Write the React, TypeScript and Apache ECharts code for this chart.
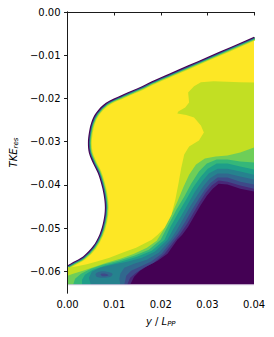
import React, { useEffect, useRef } from "react";
import * as echarts from "echarts";

// ---- axes ----
const X_TICKS = [0, 0.01, 0.02, 0.03, 0.04];
const Y_TICKS = [0, -0.01, -0.02, -0.03, -0.04, -0.05, -0.06];
const X_MIN = 0;
const X_MAX = 0.04;
const Y_MIN = -0.065;
const Y_MAX = 0;
const Y_BOTTOM = -0.0631; // lower edge of the data domain

// ---- hull outline (y/Lpp, z) from the top-right edge to the left edge ----
const HULL: number[][] = [
  [0.04, -0.00574], [0.03, -0.01043], [0.022, -0.01418], [0.01807, -0.01602],
  [0.01596, -0.01716], [0.01174, -0.01915],
  [0.00822, -0.02102], [0.00611, -0.02333], [0.00506, -0.02565], [0.00458, -0.02796],
  [0.00437, -0.03028], [0.00458, -0.03259], [0.00542, -0.03491], [0.00647, -0.03722],
  [0.00717, -0.03954], [0.00774, -0.04225], [0.00801, -0.04532], [0.00768, -0.04843],
  [0.00683, -0.0515], [0.00542, -0.05421], [0.00331, -0.05653], [0.0012, -0.05782],
  [0, -0.05856],
];

// ---- contour lines of TKE levels (level k: region above/left of line) ----
const C1: number[][] = [
  [0.04, -0.04155], [0.03705, -0.04086], [0.03431, -0.03993], [0.03241, -0.0397],
  [0.03114, -0.04086], [0.02988, -0.04248], [0.02861, -0.04456], [0.02735, -0.04688],
  [0.02587, -0.04965], [0.02461, -0.0515], [0.02355, -0.05266], [0.02144, -0.0559],
  [0.01934, -0.05752], [0.01723, -0.05868], [0.01554, -0.05984], [0.01428, -0.06123],
  [0.01343, -0.0631],
];
const C2: number[][] = [
  [0.04, -0.04086], [0.03705, -0.04016], [0.03431, -0.03924], [0.03241, -0.039],
  [0.03093, -0.04016], [0.02967, -0.04178], [0.0284, -0.04387], [0.02714, -0.04618],
  [0.02566, -0.04896], [0.02419, -0.05127], [0.02313, -0.05266], [0.02081, -0.0559],
  [0.01849, -0.05799], [0.01638, -0.05914], [0.0147, -0.0603], [0.01343, -0.06146],
  [0.0128, -0.0631],
];
const C3: number[][] = [
  [0.04, -0.03993], [0.03705, -0.03924], [0.03431, -0.03831], [0.0322, -0.03831],
  [0.03072, -0.03947], [0.02946, -0.04109], [0.02819, -0.04317], [0.02672, -0.04572],
  [0.02524, -0.0485], [0.02376, -0.05104], [0.0226, -0.05266], [0.02018, -0.0559],
  [0.01786, -0.05775], [0.01554, -0.05891], [0.01364, -0.05984], [0.01259, -0.061],
  [0.01217, -0.0631],
];
const C4: number[][] = [
  [0.04, -0.03877], [0.03705, -0.03808], [0.03431, -0.03738], [0.0322, -0.03738],
  [0.03051, -0.03854], [0.02925, -0.04016], [0.02777, -0.04248], [0.02629, -0.04502],
  [0.02482, -0.0478], [0.02334, -0.05058], [0.02208, -0.05266], [0.01955, -0.05567],
  [0.01702, -0.05729], [0.01428, -0.05822], [0.01217, -0.05914], [0.01132, -0.06053],
  [0.01111, -0.06169], [0.01132, -0.0631],
];
const C5: number[][] = [
  [0.04, -0.03762], [0.03705, -0.03692], [0.03431, -0.03623], [0.0322, -0.03623],
  [0.0303, -0.03738], [0.02882, -0.03924], [0.02735, -0.04155], [0.02587, -0.04433],
  [0.0244, -0.04711], [0.02271, -0.05012], [0.02144, -0.05266], [0.0187, -0.05544],
  [0.01596, -0.05683], [0.0128, -0.05775], [0.00964, -0.05845], [0.0069, -0.05914],
  [0.00521, -0.06007], [0.00458, -0.06146], [0.005, -0.0631],
];
const C6: number[][] = [
  [0.04, -0.03646], [0.03705, -0.03576], [0.03431, -0.03507], [0.03199, -0.03507],
  [0.03009, -0.03623], [0.02861, -0.03808], [0.02693, -0.04062], [0.02545, -0.0434],
  [0.02376, -0.04641], [0.02208, -0.04965], [0.02081, -0.05266], [0.01807, -0.05521],
  [0.01491, -0.0566], [0.01132, -0.05775], [0.00795, -0.05868], [0.00542, -0.05961],
  [0.00373, -0.06076], [0.0031, -0.06192], [0.0031, -0.0631],
];
const C7: number[][] = [
  [0.04, -0.03484], [0.03705, -0.03461], [0.03431, -0.03414], [0.03199, -0.03414],
  [0.02988, -0.03507], [0.02819, -0.03692], [0.02651, -0.0397], [0.02503, -0.04271],
  [0.02334, -0.04572], [0.02166, -0.04919], [0.01997, -0.05266], [0.01744, -0.05498],
  [0.01428, -0.05637], [0.0109, -0.05752], [0.00753, -0.05845], [0.005, -0.05938],
  [0.00289, -0.06053], [0.00162, -0.06169], [0.0012, -0.0631],
];
const C8: number[][] = [
  [0.04, -0.03137], [0.03705, -0.03252], [0.03431, -0.03322], [0.03178, -0.03345],
  [0.02946, -0.03391], [0.02756, -0.0353], [0.02608, -0.03762], [0.02482, -0.04062],
  [0.02355, -0.04387], [0.02208, -0.04734], [0.0206, -0.05035], [0.01913, -0.05289],
  [0.01702, -0.05451], [0.01428, -0.0559], [0.01132, -0.05706], [0.00837, -0.05799],
  [0.00584, -0.05891], [0.00331, -0.05984], [0.0012, -0.06053], [0, -0.061],
];
const C9: number[][] = [
  [0.04, -0.01632], [0.03705, -0.01625], [0.03135, -0.01602], [0.02861, -0.01625],
  [0.02714, -0.01718], [0.02587, -0.01863], [0.02608, -0.02095], [0.02524, -0.02211],
  [0.02376, -0.02303], [0.02355, -0.0235], [0.02545, -0.02384], [0.02714, -0.02442],
  [0.02861, -0.02627], [0.02925, -0.02789], [0.02819, -0.02975], [0.02608, -0.03113],
  [0.02503, -0.03299], [0.0244, -0.036], [0.02376, -0.03993], [0.02313, -0.0434],
  [0.02229, -0.04688], [0.02081, -0.04988], [0.01934, -0.0515], [0.01807, -0.05266],
  [0.0147, -0.05451], [0.01174, -0.05567], [0.009, -0.05683], [0.00647, -0.05764],
  [0.00415, -0.05833], [0.00205, -0.0588], [0, -0.05914],
];
// small low-TKE island in the wake
const SPOT_OUTER: number[][] = [
  [0.00605, -0.06053], [0.0069, -0.06007], [0.00837, -0.06007], [0.00964, -0.06053],
  [0.00921, -0.06123], [0.00753, -0.06146], [0.00626, -0.06123],
];
const SPOT_INNER: number[][] = [
  [0.00711, -0.06065], [0.00816, -0.06053], [0.00879, -0.06088], [0.00753, -0.06111],
];
// points just outside the plot that close the empty region above the hull
const OUTSIDE: number[][] = [[-0.003, -0.0598], [-0.003, 0.003], [0.043, 0.003], [0.043, -0.0043]];

const CONTOURS = [C1, C2, C3, C4, C5, C6, C7, C8, C9];
const LEVEL_COLORS = [
  "#440154", "#482878", "#3e4989", "#31688e", "#26828e",
  "#1f9e89", "#35b779", "#6ece58", "#c2df23", "#fde725",
];
// hull boundary-layer bands (outer → inner drawing order)
const BL_COLORS = ["#c2df23", "#6ece58", "#1f9e89", "#3e4989", "#440154"];
const BL_WIDTHS = [7.6, 6, 4.6, 3.2, 2];

type Layer = { kind: "poly" | "line"; pts: number[][]; color: string; width?: number; smooth?: number };

function buildLayers(): Layer[] {
  const hullRev = HULL.slice().reverse();
  const layers: Layer[] = [];
  layers.push({
    kind: "poly",
    pts: [...HULL, [X_MIN, Y_BOTTOM], [X_MAX, Y_BOTTOM]],
    color: LEVEL_COLORS[0],
  });
  CONTOURS.forEach((c, i) => {
    const last = c[c.length - 1];
    layers.push({ kind: "poly", pts: [...c, [X_MIN, last[1]], ...hullRev], color: LEVEL_COLORS[i + 1] });
  });
  layers.push({ kind: "poly", pts: SPOT_OUTER, color: LEVEL_COLORS[3], smooth: 0.4 });
  layers.push({ kind: "poly", pts: SPOT_INNER, color: LEVEL_COLORS[2], smooth: 0.4 });
  BL_COLORS.forEach((col, i) =>
    layers.push({ kind: "line", pts: HULL, color: col, width: BL_WIDTHS[i], smooth: 0.35 })
  );
  layers.push({ kind: "poly", pts: [...HULL, ...OUTSIDE], color: "#ffffff", smooth: 0.35 });
  layers.push({ kind: "line", pts: [[X_MIN, Y_BOTTOM], [X_MAX, Y_BOTTOM]], color: "#d8cce2", width: 1 });
  return layers;
}

const fmtY = (v: number) => (Math.abs(v) < 1e-9 ? "0.00" : (v < 0 ? "\u2212" : "") + Math.abs(v).toFixed(2));
const fmtX = (v: number) => v.toFixed(2);

export default function App() {
  const ref = useRef<HTMLDivElement>(null);
  useEffect(() => {
    if (!ref.current) return;
    const chart = echarts.init(ref.current, undefined, { renderer: "svg" });
    const layers = buildLayers();
    const font = "DejaVu Sans";
    const axisLine = { show: true, lineStyle: { color: "#1a1a1a", width: 1 } };
    chart.setOption({
      animation: false,
      textStyle: { fontFamily: font },
      grid: { left: 64, top: 12, width: 190, height: 281, containLabel: false },
      xAxis: [
        {
          type: "value", min: X_MIN, max: X_MAX, interval: 0.01, z: 10,
          axisLine, splitLine: { show: false },
          axisTick: { show: true, length: 3.5, customValues: X_TICKS, lineStyle: { color: "#1a1a1a" } },
          axisLabel: { customValues: X_TICKS, formatter: fmtX, color: "#000", fontSize: 10, margin: 6, fontFamily: font },
          name: "{i|y} / {i|L}{s|PP}", nameLocation: "middle", nameGap: 22,
          nameTextStyle: {
            color: "#000", fontSize: 10, fontFamily: font,
            rich: {
              i: { fontStyle: "italic", fontSize: 10, fontFamily: font, color: "#000" },
              s: { fontStyle: "italic", fontSize: 7, fontFamily: font, color: "#000", padding: [5, 0, 0, 0] },
            },
          },
        },
        {
          type: "value", min: X_MIN, max: X_MAX, position: "top", z: 10,
          axisLine, axisTick: { show: false }, axisLabel: { show: false }, splitLine: { show: false },
        },
      ],
      yAxis: [
        {
          type: "value", min: Y_MIN, max: Y_MAX, z: 10,
          axisLine, splitLine: { show: false },
          axisTick: { show: true, length: 3.5, customValues: Y_TICKS, lineStyle: { color: "#1a1a1a" } },
          axisLabel: { customValues: Y_TICKS, formatter: fmtY, color: "#000", fontSize: 10, margin: 7, fontFamily: font },
          name: "{i|TKE}{s|res}", nameLocation: "middle", nameRotate: 90, nameGap: 44,
          nameTextStyle: {
            color: "#000", fontSize: 10, fontFamily: font,
            rich: {
              i: { fontStyle: "italic", fontSize: 10, fontFamily: font, color: "#000" },
              s: { fontStyle: "italic", fontSize: 7, fontFamily: font, color: "#000", padding: [5, 0, 0, 0] },
            },
          },
        },
        {
          type: "value", min: Y_MIN, max: Y_MAX, position: "right", z: 10,
          axisLine, axisTick: { show: false }, axisLabel: { show: false }, splitLine: { show: false },
        },
      ],
      series: [
        {
          type: "custom",
          xAxisIndex: 0,
          yAxisIndex: 0,
          clip: true,
          silent: true,
          data: layers.map((_, i) => [i, 0]),
          renderItem: (params: any, api: any) => {
            const L = layers[params.dataIndex];
            const pts = L.pts.map((p) => api.coord(p));
            if (L.kind === "poly") {
              return {
                type: "polygon", z2: params.dataIndex,
                shape: { points: pts, smooth: L.smooth || 0 },
                style: { fill: L.color, stroke: "none" },
              };
            }
            return {
              type: "polyline", z2: params.dataIndex,
              shape: { points: pts, smooth: L.smooth || 0 },
              style: { stroke: L.color, lineWidth: L.width, fill: "none", lineJoin: "round" },
            };
          },
        },
      ],
    });
    return () => chart.dispose();
  }, []);
  return <div ref={ref} style={{ position: "absolute", left: 0, top: 0, width: 274, height: 337 }} />;
}
